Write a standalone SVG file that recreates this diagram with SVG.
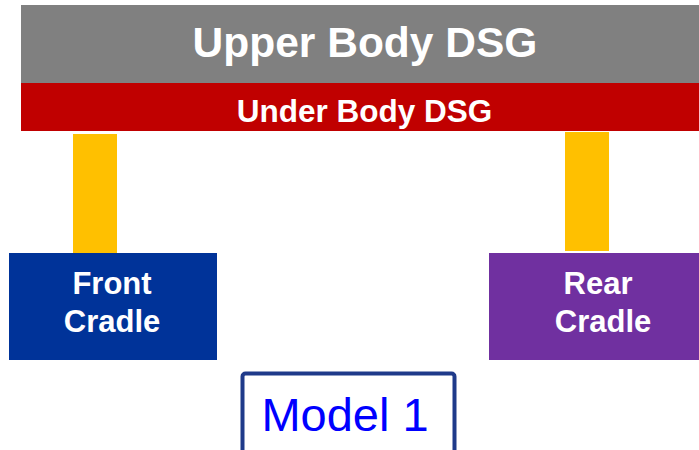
<svg xmlns="http://www.w3.org/2000/svg" width="699" height="450" viewBox="0 0 699 450">
<style>
.bold{font-family:"Liberation Sans",Arial,sans-serif;font-weight:bold;fill:#fff;text-anchor:middle}
.link{fill:#FFC000}
</style>
<rect width="699" height="450" fill="#fff"/>
<g id="upper-body">
<rect x="21" y="5" width="678" height="78" fill="#808080"/>
<text class="bold" x="365" y="57" font-size="42.5">Upper Body DSG</text>
</g>
<g id="under-body">
<rect x="21" y="83" width="678" height="48" fill="#C00000"/>
<text class="bold" x="364.5" y="122" font-size="31.5">Under Body DSG</text>
</g>
<g id="connectors">
<rect class="link" x="73" y="134" width="44" height="119"/>
<rect class="link" x="565" y="132" width="44" height="119"/>
</g>
<g id="front-cradle">
<rect x="9" y="253" width="208" height="107" fill="#003399"/>
<text class="bold" x="112" y="294" font-size="31">Front</text>
<text class="bold" x="112" y="332" font-size="31">Cradle</text>
</g>
<g id="rear-cradle">
<rect x="489" y="253" width="210" height="107" fill="#7030A0"/>
<text class="bold" x="598" y="294" font-size="31">Rear</text>
<text class="bold" x="603" y="332" font-size="31">Cradle</text>
</g>
<g id="model-label">
<rect x="242.5" y="373.5" width="212" height="90" rx="3" fill="#fff" stroke="#1F3A8A" stroke-width="4"/>
<text x="345" y="431" font-size="47" font-family="Liberation Sans,Arial,sans-serif" fill="#0000FF" text-anchor="middle">Model 1</text>
</g>
</svg>
